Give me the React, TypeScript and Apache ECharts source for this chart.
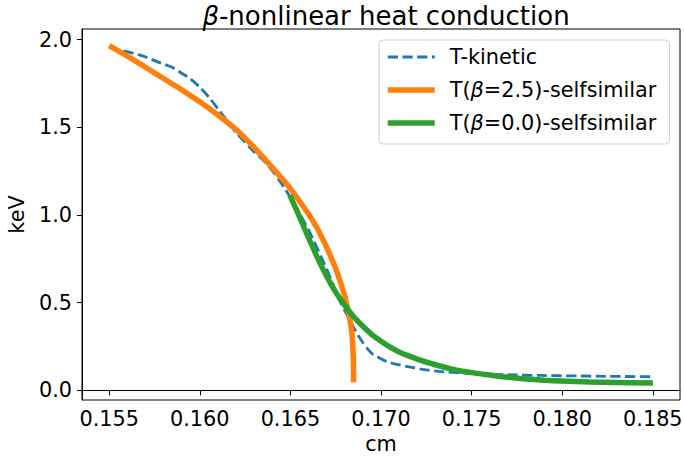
import React, { useEffect, useRef } from "react";
import * as echarts from "echarts";

const kineticX = [0.1550, 0.1567, 0.1578, 0.1585, 0.1590, 0.1595, 0.1600, 0.1605, 0.1610, 0.16156, 0.1620, 0.1629, 0.1637, 0.1646, 0.1654, 0.1660, 0.16625, 0.1667, 0.1671, 0.1677, 0.16827, 0.16883, 0.16947, 0.1700, 0.1703, 0.1708, 0.1714, 0.1723, 0.1732, 0.1751, 0.1770, 0.1788, 0.1824, 0.1850];
const kineticY = [1.955, 1.911, 1.868, 1.840, 1.808, 1.774, 1.728, 1.672, 1.605, 1.530, 1.470, 1.370, 1.290, 1.165, 1.028, 0.915, 0.862, 0.760, 0.668, 0.516, 0.402, 0.298, 0.213, 0.180, 0.165, 0.150, 0.137, 0.120, 0.108, 0.095, 0.089, 0.085, 0.080, 0.078];

const beta25X = [0.1550, 0.1560, 0.1570, 0.1580, 0.1590, 0.1600, 0.1610, 0.1620, 0.1630, 0.1640, 0.1650, 0.1660, 0.1665, 0.1670, 0.1675, 0.1678, 0.1680, 0.1682, 0.1683, 0.1684, 0.16845, 0.16848, 0.16849];
const beta25Y = [1.965, 1.905, 1.842, 1.778, 1.713, 1.645, 1.570, 1.487, 1.385, 1.270, 1.150, 1.005, 0.920, 0.815, 0.695, 0.605, 0.535, 0.450, 0.395, 0.320, 0.240, 0.150, 0.046];

const beta00X = [0.16497, 0.1655, 0.1660, 0.1665, 0.1670, 0.1675, 0.1680, 0.1685, 0.1690, 0.1695, 0.1700, 0.1705, 0.1710, 0.1720, 0.1730, 0.1740, 0.1750, 0.1760, 0.1770, 0.1780, 0.1790, 0.1800, 0.1815, 0.1830, 0.1850];
const beta00Y = [1.113, 0.990, 0.870, 0.755, 0.650, 0.560, 0.485, 0.420, 0.365, 0.318, 0.280, 0.247, 0.218, 0.178, 0.146, 0.119, 0.101, 0.087, 0.075, 0.065, 0.058, 0.053, 0.048, 0.045, 0.042];

const xTicks = [0.155, 0.16, 0.165, 0.17, 0.175, 0.18, 0.185];
const yTicks = [0, 0.5, 1.0, 1.5, 2.0];

const seriesNames = ["T-kinetic", "T(β=2.5)-selfsimilar", "T(β=0.0)-selfsimilar"];
const seriesColors = ["#1f77b4", "#ff7f0e", "#2ca02c"];

const FONT = "DejaVu Sans";

function pairs(xs: number[], ys: number[]) {
  return xs.map((x, i) => [x, ys[i]]);
}

export default function App() {
  const ref = useRef<HTMLDivElement>(null);
  useEffect(() => {
    if (!ref.current) return;
    const chart = echarts.init(ref.current, undefined, { renderer: "svg" });
    const italic = { fontStyle: "italic", fontFamily: FONT, color: "#000" };
    const lineStyles = [
      { color: seriesColors[0], width: 2.8, type: [10.3, 4.4] },
      { color: seriesColors[1], width: 5.5, type: "solid" },
      { color: seriesColors[2], width: 5.5, type: "solid" },
    ];
    const dataSets = [
      pairs(kineticX, kineticY),
      pairs(beta25X, beta25Y),
      pairs(beta00X, beta00Y),
    ];
    chart.setOption({
      animation: false,
      backgroundColor: "#fff",
      title: {
        text: "{i|β}-nonlinear heat conduction",
        left: 381,
        top: -2,
        textAlign: "center",
        textStyle: {
          fontFamily: FONT,
          fontSize: 26,
          fontWeight: "normal",
          color: "#000",
          rich: { i: { ...italic, fontSize: 26 } },
        },
      },
      legend: {
        left: 379,
        top: 40,
        orient: "vertical",
        itemWidth: 47,
        itemHeight: 14,
        itemGap: 9,
        padding: [5, 13, 9, 6],
        borderColor: "#cccccc",
        borderWidth: 1,
        borderRadius: 4,
        backgroundColor: "rgba(255,255,255,0.8)",
        data: seriesNames.map((n, i) => ({
          name: n,
          itemStyle: { opacity: 0, borderWidth: 0 },
          lineStyle: lineStyles[i],
        })),
        formatter: (name: string) => name.replace("β", "{i|β}"),
        textStyle: {
          fontFamily: FONT,
          fontSize: 20.8,
          lineHeight: 24,
          color: "#000",
          padding: [0, 0, 0, 10],
          rich: { i: { ...italic, fontSize: 20.8, lineHeight: 24 } },
        },
      },
      grid: {
        left: 82,
        right: 4,
        top: 29,
        bottom: 61,
        show: true,
        borderColor: "#000",
        borderWidth: 1,
        backgroundColor: "transparent",
        outerBoundsMode: "none",
      },
      xAxis: {
        type: "value",
        min: 0.1535,
        max: 0.1865,
        name: "cm",
        nameLocation: "middle",
        nameGap: 33,
        nameTextStyle: { fontFamily: FONT, fontSize: 20.8, color: "#000" },
        axisLine: { show: true, lineStyle: { color: "#000", width: 1 } },
        axisTick: { show: true, inside: false, length: 5, customValues: xTicks, lineStyle: { color: "#000", width: 1 } },
        axisLabel: {
          customValues: xTicks,
          margin: 8,
          fontFamily: FONT,
          fontSize: 20.8,
          color: "#000",
          formatter: (v: number) => v.toFixed(3),
        },
        splitLine: { show: false },
      },
      yAxis: {
        type: "value",
        min: -0.055,
        max: 2.06,
        name: "keV",
        nameLocation: "middle",
        nameGap: 55,
        nameRotate: 90,
        nameTextStyle: { fontFamily: FONT, fontSize: 20.8, color: "#000" },
        axisLine: { show: true, lineStyle: { color: "#000", width: 1 } },
        axisTick: { show: true, inside: false, length: 5, customValues: yTicks, lineStyle: { color: "#000", width: 1 } },
        axisLabel: {
          customValues: yTicks,
          margin: 10,
          fontFamily: FONT,
          fontSize: 20.8,
          color: "#000",
          formatter: (v: number) => v.toFixed(1),
        },
        splitLine: { show: false },
      },
      series: seriesNames.map((n, i) => ({
        name: n,
        type: "line",
        symbol: "none",
        showSymbol: false,
        smooth: 0.3,
        data: dataSets[i],
        lineStyle: lineStyles[i],
        itemStyle: { color: seriesColors[i] },
      })),
    });
    return () => chart.dispose();
  }, []);
  return (
    <div
      ref={ref}
      style={{ position: "fixed", left: 0, top: 0, width: 684, height: 461 }}
    />
  );
}
